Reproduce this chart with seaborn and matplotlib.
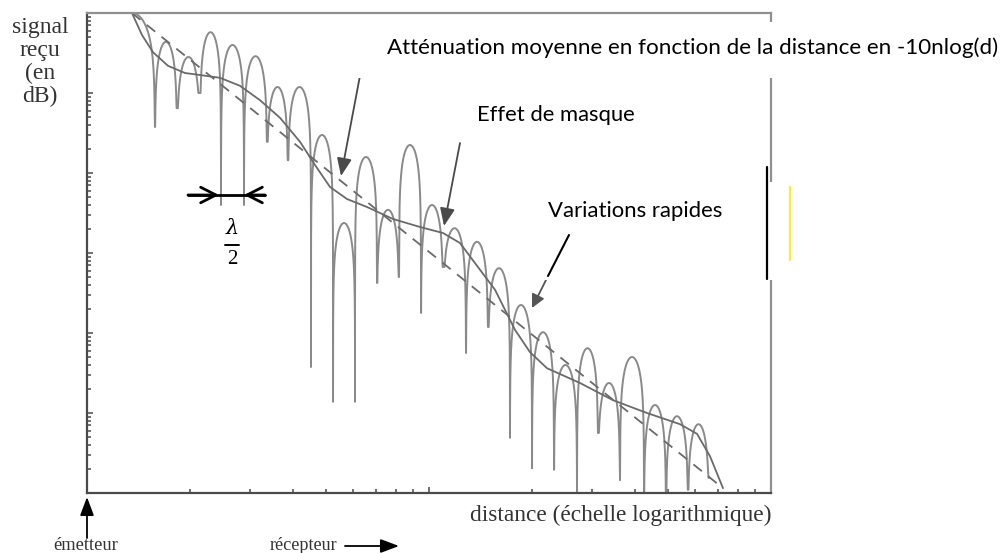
import numpy as np
import pandas as pd
import matplotlib
matplotlib.use("Agg")
import matplotlib.pyplot as plt
import seaborn as sns
from matplotlib.patches import Rectangle
from matplotlib.lines import Line2D
from matplotlib.ticker import LogLocator, NullFormatter

# ---------------- data ----------------
# distance: logarithmic axis 1 .. 100 (arbitrary units); received level in dB, 0 .. -60
null_dist = [1.160, 1.580, 1.833, 2.140, 2.465, 2.878, 3.360, 3.870, 4.518, 5.241, 6.077,
             7.046, 8.172, 9.476, 10.99, 12.83, 14.88, 17.25, 20.01, 23.20, 27.09,
             31.20, 36.18, 42.53, 49.32, 57.19, 65.86]
null_db = [-14.0, -14.25, -11.9, -10.0, -24.0, -24.0, -16.1, -18.4, -44.25, -48.6, -48.6,
           -33.75, -33.0, -37.5, -31.75, -42.5, -39.25, -53.1, -56.9, -57.1, -62.0,
           -52.5, -58.4, -62.0, -62.0, -59.6, -58.1]
peak_db = [0.0, -3.6, -5.5, -2.4, -4.0, -5.4, -9.25, -9.25, -15.25, -26.25, -18.0,
           -24.6, -16.5, -24.0, -26.9, -28.6, -31.9, -36.5, -39.9, -44.0, -41.9,
           -46.25, -43.0, -49.0, -50.4, -51.4]

mean_dist = [1.3535, 1.448, 1.5595, 1.725, 1.934, 2.140, 2.448, 2.801, 3.205, 3.667, 4.196,
             4.642, 5.135, 5.757, 6.587, 7.848, 9.412, 10.99, 12.32, 14.10, 15.60, 16.68,
             17.84, 19.74, 22.13, 27.64, 34.52, 43.39, 54.19, 60.76, 66.32, 72.39]
mean_db = [0.0, -2.75, -4.9, -6.6, -7.5, -7.75, -8.1, -9.1, -10.9, -13.1, -16.1,
           -19.0, -21.75, -23.25, -24.25, -25.75, -26.75, -27.5, -28.75, -32.1, -34.6, -37.1,
           -39.6, -42.4, -44.4, -46.25, -48.4, -50.0, -51.4, -52.6, -55.4, -59.4]

trend_dist = [1.3535, 72.39]
trend_db = [0.0, -59.4]

title_attn = "Atténuation moyenne en fonction de la distance en -10nlog(d)"
title_mask = "Effet de masque"
title_fast = "Variations rapides"
ylabel_txt = "signal\nreçu\n(en\ndB)"
xlabel_txt = "distance (échelle logarithmique)"

# ---------------- fading curve: arches between the read nulls ----------------
K = 7.0  # arch roundness (drawing style)
lx = np.log10(null_dist)
fx, fy = [], []
u = np.linspace(0, 1, 161)
tt = (1 - np.cos(np.pi * u)) / 2
for i, P in enumerate(peak_db):
    t = tt[1:-1]
    lvl = P + K * np.log10(np.sin(np.pi * t))
    lvl = np.where(t < 0.5, np.maximum(lvl, null_db[i]), np.maximum(lvl, null_db[i + 1]))
    t_all = np.concatenate([[0.0], t, [1.0]])
    l_all = np.concatenate([[null_db[i]], lvl, [null_db[i + 1]]])
    if i == 0:
        m = t_all >= 0.5
        t_all, l_all = t_all[m], l_all[m]
    fx.append(10 ** (lx[i] + (lx[i + 1] - lx[i]) * t_all))
    fy.append(l_all)
fade = pd.DataFrame({"d": np.concatenate(fx), "p": 10 ** (np.concatenate(fy) / 10)})
mean = pd.DataFrame({"d": mean_dist, "p": 10 ** (np.array(mean_db) / 10)})
trend = pd.DataFrame({"d": trend_dist, "p": 10 ** (np.array(trend_db) / 10)})

# ---------------- figure ----------------
sns.set_style("white")
plt.rcParams["font.family"] = ["DejaVu Sans"]
W, H = 1005, 553
fig = plt.figure(figsize=(W / 100, H / 100), dpi=100)
ax = fig.add_axes([87 / W, 1 - 493 / H, (771 - 87) / W, 480 / H])

sns.lineplot(data=fade, x="d", y="p", sort=False, estimator=None, ax=ax,
             color="#8a8a8a", lw=1.4)
sns.lineplot(data=mean, x="d", y="p", sort=False, estimator=None, ax=ax,
             color="#6a6a6a", lw=1.3)
sns.lineplot(data=trend, x="d", y="p", sort=False, estimator=None, ax=ax,
             color="#6a6a6a", lw=1.3, linestyle=(0, (6, 4.5)))

ax.set_xscale("log")
ax.set_yscale("log")
ax.set_xlim(1, 100)
ax.set_ylim(1e-6, 1)
ax.set_xlabel("")
ax.set_ylabel("")
for a in (ax.xaxis, ax.yaxis):
    a.set_major_locator(LogLocator(base=10, numticks=20))
    a.set_minor_locator(LogLocator(base=10, subs=np.arange(2, 10) * 1.0, numticks=100))
    a.set_minor_formatter(NullFormatter())
ax.tick_params(axis="both", which="both", direction="in", top=False, right=False,
               left=True, bottom=True,
               labelbottom=False, labelleft=False, color="#4a4a4a", width=1.1)
ax.tick_params(which="major", length=4.5)
ax.tick_params(which="minor", length=3)
for s in ("left", "bottom"):
    ax.spines[s].set_color("#4a4a4a")
    ax.spines[s].set_linewidth(1.6)
for s in ("top", "right"):
    ax.spines[s].set_color("#909090")
    ax.spines[s].set_linewidth(1.6)


def fpt(x, y):
    return (x / W, 1 - y / H)


def white_box(x0, y0, x1, y1):
    fig.add_artist(Rectangle(fpt(x0, y1), (x1 - x0) / W, (y1 - y0) / H,
                             transform=fig.transFigure, facecolor="white",
                             edgecolor="none", zorder=5))


white_box(352, 22, 1005, 78)
white_box(527, 182, 800, 280)

renderer = fig.canvas.get_renderer()


def fit_text(s, x, y, width, size0=14, ha="left", va="center", **kw):
    t = fig.text(*fpt(x, y), s, fontsize=size0, ha=ha, va=va, zorder=7, **kw)
    w = t.get_window_extent(renderer).width
    t.set_fontsize(size0 * width / w)
    return t


sans = ["Lato", "DejaVu Sans"]
serif = ["Liberation Serif", "DejaVu Serif"]
fit_text(title_attn, 387, 48, 611, family=sans, color="black")
fit_text(title_mask, 477, 115, 158, family=sans, color="black")
fit_text(title_fast, 548, 211, 175, family=sans, color="black")

fig.text(*fpt(40, 62), ylabel_txt, ha="center", va="center", multialignment="center",
         fontsize=17, linespacing=1.1, family=serif, color="#333333", zorder=7)
fit_text(xlabel_txt, 470, 515, 303, family=serif, color="#333333")
fit_text("émetteur", 53, 546, 65, family=serif, color="#333333")
fit_text("récepteur", 270, 546, 68, family=serif, color="#333333")


def arrow(x0, y0, x1, y1, color="#444444", lw=1.3, style="-|>", ms=14):
    ax.annotate("", xy=(x1, H - y1), xycoords="figure pixels",
                xytext=(x0, H - y0), textcoords="figure pixels",
                arrowprops=dict(arrowstyle=style, color=color, lw=lw,
                                mutation_scale=ms, shrinkA=0, shrinkB=0),
                annotation_clip=False, zorder=8)


def seg(x0, y0, x1, y1, color="black", lw=1.5):
    fig.add_artist(Line2D([x0 / W, x1 / W], [1 - y0 / H, 1 - y1 / H],
                          transform=fig.transFigure, color=color, lw=lw, zorder=8))


# annotation arrows
arrow(366, 44, 341, 176, color="#4a4a4a", lw=1.3, style="-|>,head_length=0.6,head_width=0.25", ms=18)
arrow(460, 143, 444, 226, color="#4a4a4a", lw=1.3, style="-|>,head_length=0.6,head_width=0.25", ms=18)
seg(569, 235, 548, 276, color="black", lw=1.5)
arrow(548, 276, 532, 308, color="#555555", lw=1.3, style="-|>,head_length=0.5,head_width=0.25", ms=16)

# half-wavelength marker
seg(188, 195, 265, 195, color="black", lw=2)
arrow(188, 195, 219, 195, color="black", lw=2, style="->,head_length=0.55,head_width=0.28", ms=20)
arrow(265, 195, 244, 195, color="black", lw=2, style="->,head_length=0.55,head_width=0.28", ms=20)
fig.text(*fpt(232, 228), "λ", ha="center", va="center", fontsize=15, style="italic",
         family=["DejaVu Serif"], color="black", zorder=7)
seg(225, 245, 239, 245, color="black", lw=1.4)
fig.text(*fpt(232, 259), "2", ha="center", va="center", fontsize=15,
         family=serif, color="black", zorder=7)

# emitter / receiver arrows
arrow(87, 538, 87, 497, color="black", lw=1.3, style="-|>,head_length=0.8,head_width=0.3", ms=14)
arrow(345, 546, 399, 546, color="black", lw=1.3, style="-|>,head_length=0.8,head_width=0.3", ms=14)

# stray marks on the right
seg(767, 167, 767, 279, color="black", lw=1.6)
seg(790, 187, 790, 260, color="#f2ee3a", lw=1.6)

fig.savefig("out.png", dpi=100)
